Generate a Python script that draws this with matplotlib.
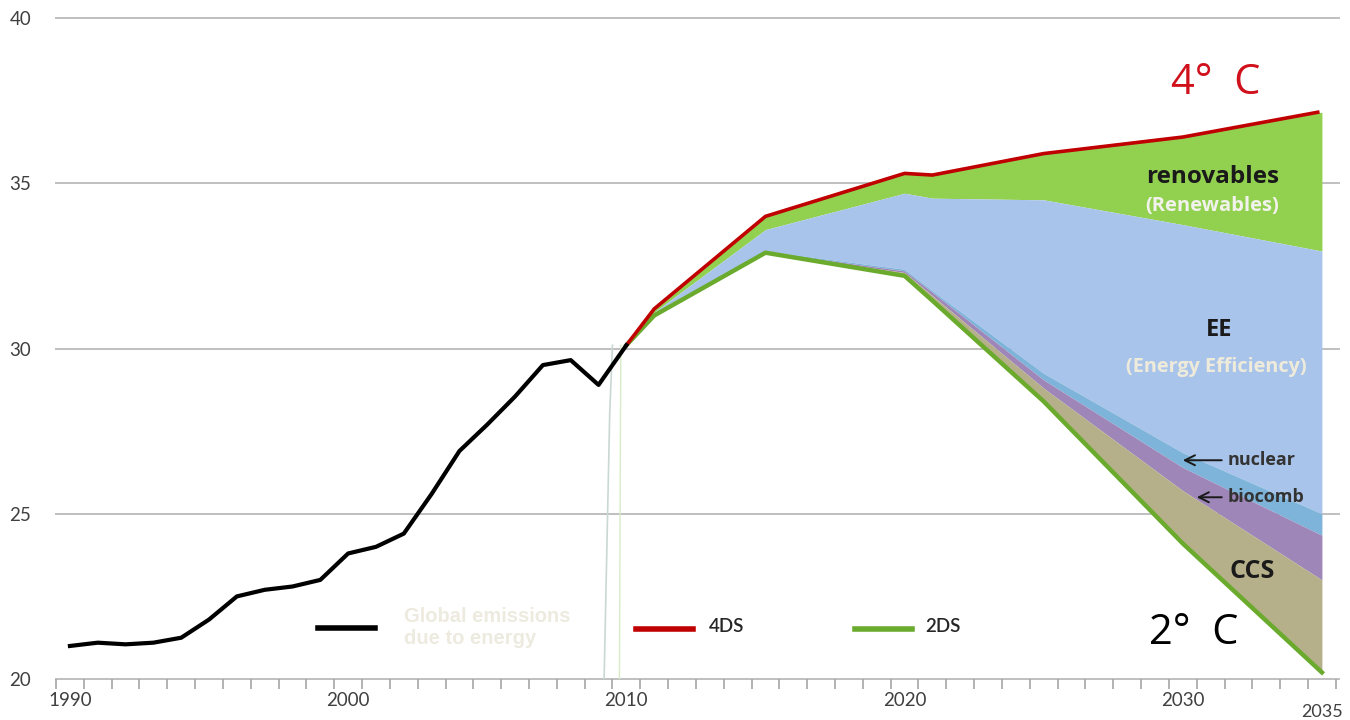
import numpy as np
import matplotlib
matplotlib.use("Agg")
import matplotlib.pyplot as plt

# historical emissions (Gt CO2)
hist_years = list(range(1990, 2011))
hist_vals = [21.0, 21.1, 21.05, 21.1, 21.25, 21.8, 22.5, 22.7, 22.8, 23.0,
             23.8, 24.0, 24.4, 25.6, 26.9, 27.7, 28.55, 29.5, 29.65, 28.9, 30.1]

# projections, band boundaries from top to bottom
proj_years = [2010, 2011, 2015, 2020, 2021, 2025, 2030, 2035]
s4ds = [30.1, 31.2, 34.0, 35.3, 35.25, 35.9, 36.4, 37.15]
ee_top = [30.1, 31.1, 33.6, 34.7, 34.55, 34.5, 33.75, 32.95]
nuclear_top = [30.1, 31.0, 32.95, 32.4, 31.75, 29.25, 26.85, 25.0]
biocomb_top = [30.1, 31.0, 32.93, 32.35, 31.7, 29.05, 26.4, 24.35]
ccs_top = [30.1, 31.0, 32.9, 32.3, 31.6, 28.8, 25.7, 23.0]
s2ds = [30.1, 31.0, 32.9, 32.2, 31.45, 28.4, 24.1, 20.2]

tick_years = [1990, 2000, 2010, 2020, 2030]
y_ticks = [20, 25, 30, 35, 40]

plt.rcParams['font.family'] = ['Lato', 'DejaVu Sans']

fig = plt.figure(figsize=(13.5, 7.2), dpi=100)
ax = fig.add_axes([0.0415, 0.0569, 0.948, 0.918])

ax.set_xlim(1989.5, 2035.5)
ax.set_ylim(20, 40)

for y in y_ticks:
    ax.plot([1989.5, 2035.6], [y, y], color='#BFBFBF', lw=1.4, zorder=1, clip_on=False)

# faint vertical artefacts near 2009/2010
ax.plot([2009.2, 2009.4, 2009.5], [20, 28, 30.1], color='#C9D8D4', lw=1.2, zorder=2)
ax.plot([2009.75, 2009.8], [20, 30.1], color='#D8EBC8', lw=1.0, zorder=2)

ax.fill_between(proj_years, ee_top, s4ds, color='#92D050', lw=0, zorder=3)
ax.fill_between(proj_years, nuclear_top, ee_top, color='#A9C4EB', lw=0, zorder=3)
ax.fill_between(proj_years, biocomb_top, nuclear_top, color='#7FB4DA', lw=0, zorder=3)
ax.fill_between(proj_years, ccs_top, biocomb_top, color='#9E86B8', lw=0, zorder=3)
ax.fill_between(proj_years, s2ds, ccs_top, color='#B5B08A', lw=0, zorder=3)

ax.plot(proj_years, s2ds, color='#6AAB2E', lw=3.2, zorder=4, solid_joinstyle='round')
ax.plot(proj_years[:-1] + [2034.85], s4ds, color='#C00000', lw=2.6, zorder=5,
        solid_joinstyle='round')
ax.plot(hist_years, hist_vals, color='black', lw=3, zorder=6, solid_joinstyle='round')

for s in ax.spines.values():
    s.set_visible(False)
ax.set_yticks(y_ticks)
ax.set_yticklabels([str(v) for v in y_ticks], fontsize=13.5, color='#404040')
ax.tick_params(axis='y', length=0, pad=18)
ax.set_xticks(tick_years)
ax.set_xticklabels([str(v) for v in tick_years], fontsize=13.5, color='#404040')
ax.set_xticks(np.arange(1989.5, 2036, 1), minor=True)
ax.tick_params(axis='x', which='major', length=0, pad=9)
ax.tick_params(axis='x', which='minor', length=7, width=1.2, color='#A6A6A6')
ax.text(2035, 18.86, '2035', ha='center', va='baseline', fontsize=13, color='#404040')

# legend
ax.plot([1998.9, 2000.95], [21.55, 21.55], color='black', lw=4, clip_on=False)
ax.text(2002.0, 21.55, 'Global emissions\ndue to energy', fontsize=14.5, fontweight='bold',
        color='#EDEADF', va='center', ha='left', family=['Liberation Sans'],
        linespacing=1.2)
ax.plot([2010.35, 2012.4], [21.52, 21.52], color='#C00000', lw=4)
ax.text(2012.95, 21.6, '4DS', fontsize=13.5, fontweight='semibold', color='#262626',
        va='center', ha='left')
ax.plot([2018.2, 2020.25], [21.52, 21.52], color='#6AAB2E', lw=4)
ax.text(2020.75, 21.6, '2DS', fontsize=13.5, fontweight='semibold', color='#262626',
        va='center', ha='left')

# annotations
ax.text(2031.2, 38.05, '4°  C', fontsize=30, color='#D0101B', ha='center', va='center',
        family=['Open Sans'])
ax.text(2030.4, 21.4, '2°  C', fontsize=30, color='black', ha='center', va='center',
        family=['Open Sans'])

ax.text(2031.07, 35.2, 'renovables', fontsize=17.5, fontweight='bold', ha='center',
        va='center', family=['Open Sans'], color='#1A1A1A', zorder=7)
ax.text(2031.07, 34.3, '(Renewables)', fontsize=14.5, fontweight='bold', ha='center',
        va='center', family=['Open Sans'], color='#F2F2EC', zorder=7)
ax.text(2031.3, 30.56, 'EE', fontsize=17, fontweight='bold', ha='center',
        va='center', family=['Open Sans'], color='#1A1A1A', zorder=7)
ax.text(2031.2, 29.44, '(Energy Efficiency)', fontsize=14.3, fontweight='bold', ha='center',
        va='center', family=['Open Sans'], color='#EFEBDA', zorder=7)
arrow = dict(arrowstyle='->', color='#1A1A1A', lw=1.4, shrinkA=2, shrinkB=0,
             mutation_scale=18)
ax.annotate('nuclear', xy=(2030.0, 26.62), xytext=(2031.6, 26.62), fontsize=13,
            fontweight='bold', family=['Open Sans'], color='#333333', ha='left', va='center',
            arrowprops=arrow, zorder=7)
ax.annotate('biocomb', xy=(2030.5, 25.5), xytext=(2031.6, 25.5), fontsize=13,
            fontweight='bold', family=['Open Sans'], color='#333333', ha='left', va='center',
            arrowprops=arrow, zorder=7)
ax.text(2032.5, 23.24, 'CCS', fontsize=18, fontweight='bold', ha='center', va='center',
        family=['Open Sans'], color='#1A1A1A', zorder=7)

fig.savefig('out.png', dpi=100)
